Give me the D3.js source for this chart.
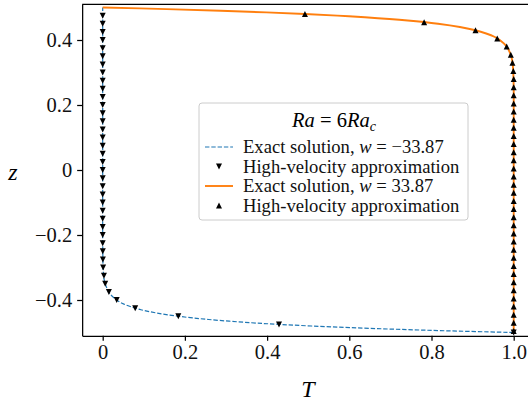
<!DOCTYPE html>
<html>
<head>
<meta charset="utf-8">
<script src="https://cdn.jsdelivr.net/npm/d3@7"></script>
<style>
  body { margin: 0; background: #fff; }
  svg, svg text { font-family: "Liberation Serif", "DejaVu Serif", serif; }
</style>
</head>
<body>
<div id="chart"></div>
<script>
// exact solution, w = -33.87 (dashed blue)
const zExactDown = [-0.5, -0.495, -0.49, -0.485, -0.48, -0.475, -0.47, -0.46, -0.45, -0.44, -0.43, -0.42, -0.41, -0.4, -0.38, -0.36, -0.34, -0.32, -0.3, -0.25, -0.2, 0, 0.5];
const tExactDown = [1, 0.844, 0.713, 0.602, 0.508, 0.429, 0.362, 0.258, 0.184, 0.131, 0.093, 0.067, 0.047, 0.034, 0.017, 0.009, 0.004, 0.002, 0.001, 0.0002, 0, 0, 0];

// exact solution, w = 33.87 (solid orange)
const zExactUp = [0.5, 0.495, 0.49, 0.485, 0.48, 0.475, 0.47, 0.46, 0.45, 0.44, 0.43, 0.42, 0.41, 0.4, 0.38, 0.36, 0.34, 0.32, 0.3, 0.25, 0.2, 0, -0.5];
const tExactUp = [0, 0.156, 0.287, 0.398, 0.492, 0.571, 0.638, 0.742, 0.816, 0.869, 0.907, 0.933, 0.953, 0.966, 0.983, 0.991, 0.996, 0.998, 0.999, 1, 1, 1, 1];

// high-velocity approximation, down triangles
const zApproxDown = [-0.5, -0.475, -0.45, -0.425, -0.4, -0.375, -0.35, -0.325, -0.3, -0.275, -0.25, -0.225, -0.2, -0.175, -0.15, -0.125, -0.1, -0.075, -0.05, -0.025, 0, 0.025, 0.05, 0.075, 0.1, 0.125, 0.15, 0.175, 0.2, 0.225, 0.25, 0.275, 0.3, 0.325, 0.35, 0.375, 0.4, 0.425, 0.45, 0.475];
const tApproxDown = [1, 0.429, 0.184, 0.079, 0.034, 0.015, 0.006, 0.003, 0.001, 0.0005, 0.0002, 0, 0, 0, 0, 0, 0, 0, 0, 0, 0, 0, 0, 0, 0, 0, 0, 0, 0, 0, 0, 0, 0, 0, 0, 0, 0, 0, 0, 0];

// high-velocity approximation, up triangles
const zApproxUp = [0.48, 0.455, 0.43, 0.405, 0.38, 0.355, 0.33, 0.305, 0.28, 0.255, 0.23, 0.205, 0.18, 0.155, 0.13, 0.105, 0.08, 0.055, 0.03, 0.005, -0.02, -0.045, -0.07, -0.095, -0.12, -0.145, -0.17, -0.195, -0.22, -0.245, -0.27, -0.295, -0.32, -0.345, -0.37, -0.395, -0.42, -0.445, -0.47, -0.495];
const tApproxUp = [0.492, 0.782, 0.907, 0.96, 0.983, 0.993, 0.997, 0.999, 1, 1, 1, 1, 1, 1, 1, 1, 1, 1, 1, 1, 1, 1, 1, 1, 1, 1, 1, 1, 1, 1, 1, 1, 1, 1, 1, 1, 1, 1, 1, 1];

const xTicks = [0, 0.2, 0.4, 0.6, 0.8, 1.0];
const xTickLabels = ["0", "0.2", "0.4", "0.6", "0.8", "1.0"];
const yTicks = [-0.4, -0.2, 0, 0.2, 0.4];
const yTickLabels = ["\u22120.4", "\u22120.2", "0", "0.2", "0.4"];

const width = 528, height = 403;
const blue = "#1f77b4", orange = "#ff7f0e";
const serif = "'Liberation Serif', 'DejaVu Serif', serif";

const svg = d3.select("#chart").append("svg").attr("width", width).attr("height", height);

const x = d3.scaleLinear().domain([-0.05, 1.05]).range([82.15, 534.25]);
const y = d3.scaleLinear().domain([-0.51, 0.51]).range([335.75, 4.25]);

const zip = (ts, zs) => ts.map((t, i) => ({ t, z: zs[i] }));
const line = d3.line().x(d => x(d.t)).y(d => y(d.z)).curve(d3.curveCatmullRom.alpha(0.5));

svg.append("path").datum(zip(tExactDown, zExactDown))
  .attr("d", line).attr("fill", "none").attr("stroke", blue)
  .attr("stroke-width", 1.2).attr("stroke-dasharray", "4.4,1.9");

svg.append("path").datum(zip(tExactUp, zExactUp))
  .attr("d", line).attr("fill", "none").attr("stroke", orange)
  .attr("stroke-width", 1.9);

const tri = (s, up) => up
  ? `M0,${-s}L${s},${s}L${-s},${s}Z`
  : `M0,${s}L${s},${-s}L${-s},${-s}Z`;

svg.append("g").selectAll("path").data(zip(tApproxDown, zApproxDown)).join("path")
  .attr("transform", d => `translate(${x(d.t)},${y(d.z)})`)
  .attr("d", tri(3, false)).attr("fill", "#000");

svg.append("g").selectAll("path").data(zip(tApproxUp, zApproxUp)).join("path")
  .attr("transform", d => `translate(${x(d.t)},${y(d.z)})`)
  .attr("d", tri(3, true)).attr("fill", "#000");

// axes
const xAxis = d3.axisBottom(x).tickValues(xTicks).tickFormat((d, i) => xTickLabels[i]).tickSizeInner(5).tickSizeOuter(0).tickPadding(5);
const yAxis = d3.axisLeft(y).tickValues(yTicks).tickFormat((d, i) => yTickLabels[i]).tickSizeInner(5).tickSizeOuter(0).tickPadding(5);

const gx = svg.append("g").attr("transform", `translate(0,${y.range()[0]})`).call(xAxis);
const gy = svg.append("g").attr("transform", `translate(${x.range()[0]},0)`).call(yAxis);
[gx, gy].forEach(g => {
  g.attr("font-family", null).attr("font-size", null);
  g.selectAll("path, line").attr("stroke", "#000").attr("stroke-width", 1.25);
  g.selectAll("text").style("font-size", "20.5px").attr("fill", "#111")
    .style("font-family", serif);
});
gx.selectAll("text").attr("dy", "0.71em").attr("y", 9);
gy.selectAll("text").attr("dy", "0.33em");

svg.append("line").attr("x1", x.range()[0]).attr("x2", x.range()[1])
  .attr("y1", y.range()[1]).attr("y2", y.range()[1])
  .attr("stroke", "#000").attr("stroke-width", 1.25);

svg.append("text").attr("x", 308).attr("y", 397).attr("text-anchor", "middle")
  .style("font-family", serif).style("font-size", "24px").attr("font-style", "italic").text("T");
svg.append("text").attr("x", 13).attr("y", 180).attr("text-anchor", "middle")
  .style("font-family", serif).style("font-size", "24px").attr("font-style", "italic").text("z");

// legend
const lg = svg.append("g");
lg.append("rect").attr("x", 199).attr("y", 103).attr("width", 269).attr("height", 117)
  .attr("rx", 3).attr("fill", "#fff").attr("fill-opacity", 0.8)
  .attr("stroke", "#cccccc").attr("stroke-width", 1);

const title = lg.append("text").attr("x", 334).attr("y", 127).attr("text-anchor", "middle")
  .style("font-family", serif).style("font-size", "20.5px");
title.append("tspan").attr("font-style", "italic").text("Ra");
title.append("tspan").text(" = 6");
title.append("tspan").attr("font-style", "italic").text("Ra");
title.append("tspan").attr("font-style", "italic").style("font-size", "14px").attr("dy", 4).text("c");

const entries = [
  { kind: "dash", color: blue, label: ["Exact solution, ", "w", " = \u221233.87"] },
  { kind: "down", label: ["High-velocity approximation"] },
  { kind: "solid", color: orange, label: ["Exact solution, ", "w", " = 33.87"] },
  { kind: "up", label: ["High-velocity approximation"] }
];
const rowY = [147, 166.5, 186, 205.5];
entries.forEach((e, i) => {
  const cy = rowY[i];
  if (e.kind === "dash") {
    lg.append("line").attr("x1", 205).attr("x2", 233).attr("y1", cy).attr("y2", cy)
      .attr("stroke", e.color).attr("stroke-width", 1.2).attr("stroke-dasharray", "4.4,1.9");
  } else if (e.kind === "solid") {
    lg.append("line").attr("x1", 205).attr("x2", 233).attr("y1", cy).attr("y2", cy)
      .attr("stroke", e.color).attr("stroke-width", 1.9);
  } else {
    lg.append("path").attr("transform", `translate(219,${cy})`)
      .attr("d", tri(3, e.kind === "up")).attr("fill", "#000");
  }
  const t = lg.append("text").attr("x", 243).attr("y", cy + 6)
    .style("font-family", serif).style("font-size", "18.6px").attr("fill", "#111");
  e.label.forEach(s => {
    const sp = t.append("tspan").text(s);
    if (s === "w") sp.attr("font-style", "italic");
  });
});
</script>
</body>
</html>
